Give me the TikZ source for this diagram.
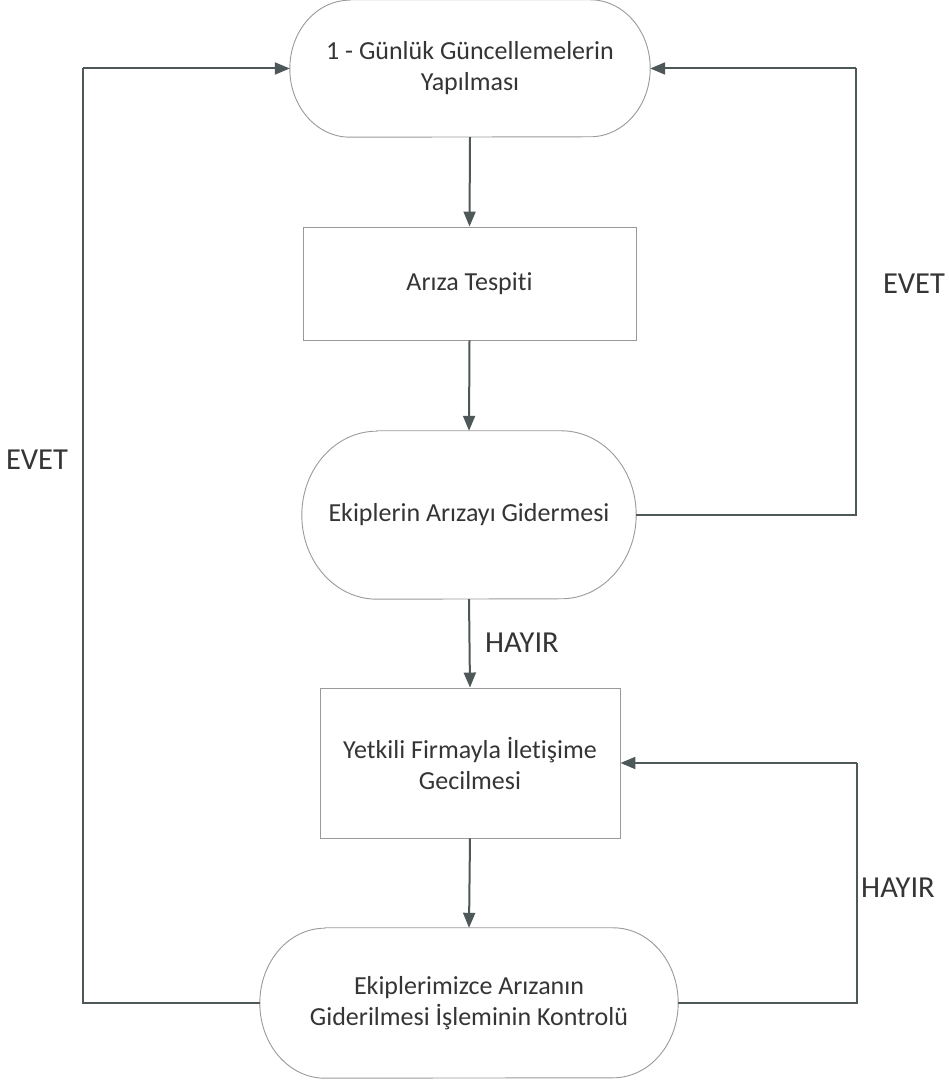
\documentclass[tikz,border=0pt]{standalone}
\usepackage{fontspec}
\setmainfont{Carlito}[Ligatures=NoCommon]
\usetikzlibrary{arrows.meta}
\definecolor{linecol}{HTML}{4E5858}
\definecolor{boxcol}{HTML}{9A9A9A}
\definecolor{txtcol}{HTML}{353535}
\begin{document}
\begin{tikzpicture}[x=1pt,y=1pt,
  nodetext/.style={font=\fontsize{26}{31}\selectfont, text=txtcol, align=center, inner sep=0pt},
  procbox/.style={nodetext, draw=boxcol, line width=0.9pt, rectangle},
  stadbox/.style={nodetext, draw=none, rectangle},
  stadline/.style={draw=boxcol, line width=0.9pt},
  conn/.style={draw=linecol, line width=2pt, -{Triangle[length=15pt,width=12pt]}},
  plain/.style={draw=linecol, line width=2pt},
  lbl/.style={font=\fontsize{30.5}{34}\selectfont, text=txtcol, inner sep=0pt}
]
\useasboundingbox (0,0) rectangle (949,1081);
\fill[white] (0,0) rectangle (949,1081);

% nodes
\node[stadbox, minimum width=360pt, minimum height=137pt] (s1) at (470,1012.5) {1 - Günlük Güncellemelerin\\Yapılması};
\node[procbox, minimum width=333pt, minimum height=113pt] (r1) at (469.5,797.5) {Arıza Tespiti};
\node[stadbox, minimum width=334pt, minimum height=168pt] (s2) at (469,566) {Ekiplerin Arızayı Gidermesi};
\node[procbox, minimum width=300pt, minimum height=150pt] (r2) at (470,318) {Yetkili Firmayla İletişime\\Gecilmesi};
\node[stadbox, minimum width=418pt, minimum height=150pt] (s3) at (469,78) {Ekiplerimizce Arızanın\\Giderilmesi İşleminin Kontrolü};

% stadium outlines (elliptic ends)
\draw[stadline] ([xshift=60pt]s1.north west) -- ([xshift=-60pt]s1.north east)
  arc[start angle=90, end angle=-90, x radius=60pt, y radius=68.5pt]
  -- ([xshift=60pt]s1.south west)
  arc[start angle=270, end angle=90, x radius=60pt, y radius=68.5pt] -- cycle;
\draw[stadline] ([xshift=75pt]s2.north west) -- ([xshift=-75pt]s2.north east)
  arc[start angle=90, end angle=-90, x radius=75pt, y radius=84pt]
  -- ([xshift=75pt]s2.south west)
  arc[start angle=270, end angle=90, x radius=75pt, y radius=84pt] -- cycle;
\draw[stadline] ([xshift=65pt]s3.north west) -- ([xshift=-65pt]s3.north east)
  arc[start angle=90, end angle=-90, x radius=65pt, y radius=75pt]
  -- ([xshift=65pt]s3.south west)
  arc[start angle=270, end angle=90, x radius=65pt, y radius=75pt] -- cycle;

% helper coordinates
\coordinate (lb) at (83,78);
\coordinate (lt) at (83,1012.5);
\coordinate (rt) at (856,1012.5);
\coordinate (rm) at (856,566);
\coordinate (rb) at (857,78);
\coordinate (rr) at (857,318);

% vertical flow
\draw[conn] (s1.south) -- (r1.north);
\draw[conn] (r1.south) -- (s2.north);
\draw[conn] (s2.south) -- (r2.north);
\draw[conn] (r2.south) -- (s3.north);

% loops
\draw[plain] (s3.west) -- (lb) -- (lt);
\draw[conn] (lt) -- (s1.west);
\draw[plain] (s2.east) -- (rm) -- (rt);
\draw[conn] (rt) -- (s1.east);
\draw[plain] (s3.east) -- (rb) -- (rr);
\draw[conn] (rr) -- (r2.east);

% labels
\node[lbl] (l1) at (37,621) {EVET};
\node[lbl] (l2) at (914,797) {EVET};
\node[lbl] (l3) at (522,438) {HAYIR};
\node[lbl] (l4) at (898,193) {HAYIR};
\end{tikzpicture}
\end{document}
